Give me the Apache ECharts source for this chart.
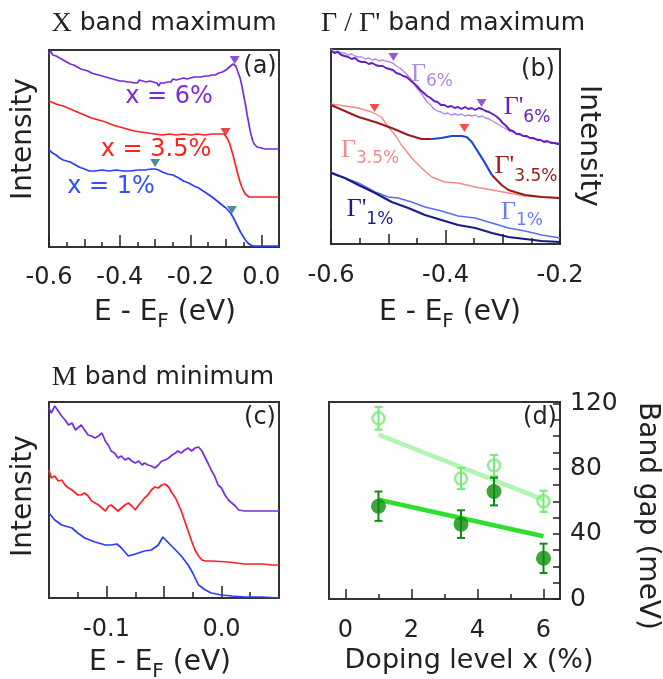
<!DOCTYPE html>
<html>
<head>
<meta charset="utf-8">
<script src="https://cdn.jsdelivr.net/npm/echarts@6/dist/echarts.min.js"></script>
<style>
  html, body { margin: 0; padding: 0; background: #fff; }
  #main { width: 663px; height: 679px; }
</style>
</head>
<body>
<div id="main"></div>
<script>
// ---- data (E in eV, intensity in arbitrary units) ----
// (a) X band maximum
var aX6 = [[-0.600,193],[-0.595,196],[-0.590,192],[-0.585,194],[-0.580,191],[-0.575,193],[-0.570,189],[-0.565,190],[-0.560,187],[-0.555,188],[-0.550,185],[-0.545,186],[-0.540,183],[-0.535,185],[-0.530,182],[-0.525,183],[-0.520,180],[-0.515,181],[-0.510,178],[-0.505,180],[-0.500,177],[-0.495,178],[-0.490,176],[-0.485,177],[-0.480,174],[-0.475,175],[-0.470,173],[-0.465,174],[-0.460,172],[-0.455,173],[-0.450,171],[-0.445,172],[-0.440,170],[-0.435,171],[-0.430,169],[-0.425,170],[-0.420,168],[-0.415,169],[-0.410,167],[-0.405,168],[-0.400,166],[-0.395,168],[-0.390,166],[-0.385,167],[-0.380,165],[-0.375,167],[-0.370,165],[-0.365,166],[-0.360,164],[-0.355,166],[-0.350,164],[-0.345,167],[-0.340,165],[-0.335,166],[-0.330,164],[-0.325,165],[-0.320,163],[-0.315,166],[-0.310,164],[-0.305,165],[-0.300,163],[-0.295,164],[-0.290,161],[-0.285,164],[-0.280,166],[-0.275,164],[-0.270,166],[-0.265,165],[-0.260,167],[-0.255,165],[-0.250,168],[-0.245,166],[-0.240,167],[-0.235,166],[-0.230,168],[-0.225,167],[-0.220,169],[-0.215,167],[-0.210,168],[-0.205,167],[-0.200,169],[-0.195,168],[-0.190,170],[-0.185,168],[-0.180,170],[-0.175,169],[-0.170,170],[-0.165,169],[-0.160,171],[-0.155,170],[-0.150,171],[-0.145,170],[-0.140,172],[-0.135,171],[-0.130,172],[-0.125,172],[-0.120,174],[-0.115,173],[-0.110,175],[-0.105,175],[-0.100,177],[-0.095,178],[-0.090,180],[-0.085,181],[-0.080,183],[-0.076,184],[-0.072,181],[-0.068,177],[-0.064,173],[-0.060,169],[-0.056,163],[-0.052,156],[-0.048,148],[-0.044,141],[-0.040,132],[-0.036,125],[-0.032,117],[-0.028,111],[-0.024,106],[-0.020,103],[-0.016,101],[-0.012,100],[-0.008,99],[0.000,99],[0.010,98],[0.020,98],[0.030,98],[0.040,98],[0.050,98]];
var aX35 = [[-0.600,146],[-0.580,143],[-0.560,141],[-0.540,138],[-0.520,135],[-0.500,132],[-0.480,129],[-0.460,127],[-0.440,125],[-0.420,122],[-0.400,120],[-0.380,118],[-0.360,116],[-0.340,115],[-0.320,114],[-0.300,113],[-0.280,112],[-0.260,113],[-0.240,112],[-0.220,113],[-0.200,112],[-0.180,113],[-0.160,112],[-0.140,113],[-0.120,113],[-0.105,113],[-0.100,111],[-0.095,108],[-0.090,104],[-0.085,98],[-0.080,92],[-0.075,85],[-0.070,78],[-0.065,71],[-0.060,65],[-0.055,60],[-0.050,56],[-0.045,53],[-0.040,51],[-0.035,50],[0.000,50],[0.050,50]];
var aX1 = [[-0.600,97],[-0.590,94],[-0.580,92],[-0.570,89],[-0.560,87],[-0.550,86],[-0.540,85],[-0.530,83],[-0.515,80],[-0.500,78],[-0.486,76],[-0.470,76],[-0.450,77],[-0.430,76],[-0.410,77],[-0.390,76],[-0.370,76],[-0.350,77],[-0.330,77],[-0.310,78],[-0.300,78],[-0.290,77],[-0.280,75],[-0.265,73],[-0.250,72],[-0.233,69],[-0.220,66],[-0.205,64],[-0.190,61],[-0.177,59],[-0.160,55],[-0.139,50],[-0.125,46],[-0.111,42],[-0.100,39],[-0.087,34],[-0.080,30],[-0.073,25],[-0.066,20],[-0.059,15],[-0.052,11],[-0.045,7],[-0.038,4],[-0.030,2],[-0.022,1],[0.000,1],[0.050,1]];
var aMark6 = [[-0.075,187]];
var aMark35 = [[-0.101,115]];
var aMark1 = [[-0.300,84],[-0.083,37]];

// (b) Gamma / Gamma' band maximum
var bG6p = [[-0.600,193],[-0.594,191],[-0.588,192],[-0.582,189],[-0.576,188],[-0.570,187],[-0.564,185],[-0.558,186],[-0.552,183],[-0.546,182],[-0.540,182],[-0.534,180],[-0.528,181],[-0.522,179],[-0.516,178],[-0.510,178],[-0.504,176],[-0.498,175],[-0.492,174],[-0.486,171],[-0.480,170],[-0.474,168],[-0.468,167],[-0.462,164],[-0.456,161],[-0.450,158],[-0.444,154],[-0.438,151],[-0.432,148],[-0.426,146],[-0.420,143],[-0.414,142],[-0.408,139],[-0.402,139],[-0.396,137],[-0.390,138],[-0.384,136],[-0.378,137],[-0.372,135],[-0.366,137],[-0.360,135],[-0.354,136],[-0.348,134],[-0.342,136],[-0.336,135],[-0.330,133],[-0.324,132],[-0.318,130],[-0.312,128],[-0.306,125],[-0.300,121],[-0.294,118],[-0.288,114],[-0.282,113],[-0.276,110],[-0.270,110],[-0.264,108],[-0.258,108],[-0.252,106],[-0.246,106],[-0.240,104],[-0.234,104],[-0.228,102],[-0.222,103],[-0.216,101],[-0.210,101],[-0.204,100],[-0.200,100]];
var bG6 = [[-0.600,195],[-0.594,192],[-0.588,193],[-0.582,191],[-0.576,191],[-0.570,189],[-0.564,190],[-0.558,188],[-0.552,187],[-0.546,187],[-0.540,185],[-0.534,186],[-0.528,184],[-0.522,185],[-0.516,183],[-0.510,184],[-0.504,183],[-0.498,182],[-0.492,181],[-0.486,178],[-0.480,176],[-0.474,173],[-0.468,170],[-0.462,166],[-0.456,161],[-0.450,156],[-0.444,152],[-0.438,147],[-0.432,142],[-0.426,139],[-0.420,135],[-0.414,133],[-0.408,132],[-0.402,130],[-0.396,131],[-0.390,129],[-0.384,130],[-0.378,129],[-0.372,130],[-0.366,128],[-0.360,129],[-0.354,128],[-0.348,129],[-0.342,127],[-0.336,128],[-0.330,126],[-0.324,125],[-0.318,123],[-0.312,121],[-0.306,119],[-0.300,117],[-0.294,115],[-0.288,113],[-0.282,112],[-0.276,110],[-0.270,109],[-0.264,108],[-0.258,107],[-0.252,106],[-0.246,105],[-0.240,105],[-0.234,104],[-0.228,103],[-0.222,102],[-0.216,102],[-0.210,101],[-0.204,101],[-0.200,100]];
var bG35 = [[-0.600,140],[-0.576,138],[-0.552,136],[-0.529,132],[-0.512,127],[-0.500,117],[-0.488,109],[-0.477,99],[-0.459,86],[-0.442,76],[-0.424,67],[-0.401,62],[-0.378,61],[-0.348,57],[-0.319,54],[-0.290,51],[-0.261,48],[-0.232,47],[-0.200,46]];
var bG35pA = [[-0.600,139],[-0.576,133],[-0.552,127],[-0.523,122],[-0.494,116],[-0.465,109],[-0.442,105],[-0.424,105]];
var bG35pFit = [[-0.424,105],[-0.407,106],[-0.389,108],[-0.372,108],[-0.363,107],[-0.354,102],[-0.343,92],[-0.331,81],[-0.319,69]];
var bG35pB = [[-0.319,69],[-0.314,66],[-0.302,59],[-0.290,54],[-0.279,52],[-0.261,49],[-0.232,47],[-0.200,46]];
var bG1p = [[-0.600,71],[-0.576,66],[-0.552,59],[-0.523,51],[-0.494,42],[-0.465,36],[-0.436,29],[-0.407,24],[-0.378,19],[-0.348,16],[-0.319,11],[-0.290,7],[-0.261,5],[-0.232,3],[-0.200,2]];
var bG1 = [[-0.600,72],[-0.576,66],[-0.552,61],[-0.523,52],[-0.500,47],[-0.483,46],[-0.459,42],[-0.436,37],[-0.407,33],[-0.378,28],[-0.348,26],[-0.319,21],[-0.290,16],[-0.261,13],[-0.232,9],[-0.200,6]];
var bMark6 = [[-0.491,187],[-0.337,141]];
var bMark35 = [[-0.524,136],[-0.367,116]];

// (c) M band minimum
var cM6 = [[-0.150,190],[-0.148,185],[-0.145,192],[-0.142,187],[-0.139,182],[-0.136,178],[-0.133,173],[-0.130,175],[-0.127,168],[-0.125,170],[-0.122,173],[-0.119,168],[-0.116,163],[-0.113,162],[-0.110,160],[-0.107,162],[-0.104,165],[-0.101,157],[-0.098,152],[-0.096,147],[-0.093,145],[-0.090,140],[-0.087,142],[-0.084,138],[-0.081,140],[-0.078,137],[-0.075,135],[-0.072,137],[-0.069,133],[-0.067,135],[-0.064,133],[-0.061,132],[-0.058,130],[-0.055,133],[-0.052,137],[-0.049,138],[-0.046,140],[-0.043,143],[-0.040,145],[-0.038,147],[-0.035,145],[-0.032,148],[-0.029,150],[-0.026,147],[-0.023,150],[-0.020,151],[-0.017,147],[-0.014,140],[-0.011,133],[-0.009,128],[-0.006,122],[-0.003,113],[0.000,110],[0.003,103],[0.006,98],[0.009,95],[0.012,92],[0.015,88],[0.020,87],[0.026,87],[0.032,87],[0.050,87]];
var cM35 = [[-0.150,128],[-0.148,120],[-0.145,122],[-0.142,117],[-0.139,118],[-0.136,113],[-0.133,110],[-0.130,108],[-0.127,105],[-0.125,103],[-0.122,103],[-0.119,105],[-0.116,102],[-0.113,97],[-0.110,95],[-0.107,93],[-0.104,90],[-0.101,87],[-0.098,92],[-0.096,93],[-0.093,90],[-0.090,87],[-0.087,90],[-0.084,93],[-0.081,95],[-0.078,92],[-0.075,88],[-0.072,93],[-0.069,97],[-0.067,100],[-0.064,103],[-0.061,108],[-0.058,111],[-0.055,110],[-0.052,113],[-0.049,114],[-0.046,111],[-0.043,105],[-0.040,100],[-0.038,95],[-0.035,87],[-0.032,77],[-0.029,67],[-0.026,57],[-0.023,48],[-0.020,42],[-0.017,38],[-0.014,37],[-0.009,37],[0.006,36],[0.020,34],[0.035,34],[0.044,33],[0.050,33]];
var cM1 = [[-0.150,85],[-0.145,78],[-0.139,73],[-0.130,70],[-0.125,65],[-0.119,60],[-0.110,56],[-0.101,53],[-0.096,53],[-0.091,54],[-0.087,50],[-0.081,42],[-0.075,44],[-0.067,47],[-0.061,48],[-0.055,53],[-0.051,61],[-0.046,55],[-0.040,48],[-0.035,42],[-0.029,33],[-0.025,25],[-0.020,13],[-0.014,8],[-0.009,5],[0.000,3],[0.009,2],[0.020,1],[0.035,1],[0.050,0]];

// (d) band gap vs doping
var dopingX = [1, 3.5, 4.5, 6];
var gapOpen = [111, 74, 82, 60];
var gapOpenErr = [7, 6.5, 6.5, 6.5];
var gapFilled = [57, 46, 66, 25];
var gapFilledErr = [9, 8.5, 8.5, 9];
var fitOpen = [[1, 101], [6, 61]];
var fitFilled = [[1, 61], [6, 38.5]];

// tick positions
var aMajor = [-0.6, -0.4, -0.2, 0.0];
var aMid = [-0.5, -0.3, -0.1];
var aMinor = [-0.55, -0.45, -0.35, -0.25, -0.15, -0.05];
var bMajor = [-0.6, -0.4, -0.2];
var bMid = [-0.5, -0.3];
var bMinor = [-0.55, -0.45, -0.35, -0.25];
var cMajor = [-0.1, -0.05, 0.0];
var cLabels = [-0.1, 0.0];
var cMinor = [-0.125, -0.075, -0.025, 0.025];
var dXMajor = [0, 2, 4, 6];
var dXMinor = [1, 3, 5];
var dYTicks = [0, 10, 20, 30, 40, 50, 60, 70, 80, 90, 100, 110, 120];
var dYLabels = [0, 40, 80, 120];

// ---- chart ----
var SANS = "'DejaVu Sans', sans-serif";
var SERIF = "'Liberation Serif', serif";
var INK = '#222';

var fmt1 = function (v) { var r = Math.round(v * 10) / 10; if (Math.abs(r) < 1e-9) r = 0; return r.toFixed(1); };

function xTicks(grid, min, max, values, len, labels, margin) {
    return {
        type: 'value', gridIndex: grid, min: min, max: max, position: 'bottom',
        axisLine: { show: false, onZero: false }, splitLine: { show: false },
        axisTick: { show: true, inside: true, length: len, customValues: values, lineStyle: { color: INK, width: 1.5 } },
        axisLabel: labels ? { show: true, customValues: labels, formatter: fmt1, fontSize: 24, fontFamily: SANS, color: INK, margin: margin } : { show: false }
    };
}

var xAxes = [
    xTicks(0, -0.6, 0.05, aMajor, 12, aMajor, 19),
    xTicks(0, -0.6, 0.05, aMid, 8),
    xTicks(0, -0.6, 0.05, aMinor, 5),
    xTicks(1, -0.6, -0.2, bMajor, 14, bMajor, 20),
    xTicks(1, -0.6, -0.2, bMid, 10),
    xTicks(1, -0.6, -0.2, bMinor, 6),
    xTicks(2, -0.15, 0.05, cMajor, 12, cLabels, 20),
    xTicks(2, -0.15, 0.05, cMinor, 6),
    xTicks(3, -0.5, 6.5, dXMajor, 10, dXMajor, 20),
    xTicks(3, -0.5, 6.5, dXMinor, 5)
];
xAxes[8].axisLabel.formatter = function (v) { return String(Math.round(v)); };

var yAxes = [
    { type: 'value', gridIndex: 0, min: 0, max: 197, show: false },
    { type: 'value', gridIndex: 1, min: 0, max: 195, show: false },
    { type: 'value', gridIndex: 2, min: 0, max: 196, show: false },
    {
        type: 'value', gridIndex: 3, min: 0, max: 121, position: 'right',
        axisLine: { show: false, onZero: false }, splitLine: { show: false },
        axisTick: { show: true, inside: true, length: 7, customValues: dYTicks, lineStyle: { color: INK, width: 1.5 } },
        axisLabel: { show: true, customValues: dYLabels, fontSize: 25, fontFamily: SANS, color: INK, margin: 10 }
    }
];

function line(xi, yi, data, color, width) {
    return { type: 'line', xAxisIndex: xi, yAxisIndex: yi, data: data, symbol: 'none', showSymbol: false,
        lineStyle: { color: color, width: width }, silent: true, z: 3 };
}
function tri(xi, yi, data, color) {
    return { type: 'scatter', xAxisIndex: xi, yAxisIndex: yi, data: data, symbol: 'triangle', symbolRotate: 180,
        symbolSize: [10, 8], itemStyle: { color: color }, silent: true, z: 5 };
}
function errBars(vals, errs, color) {
    return {
        type: 'custom', xAxisIndex: 8, yAxisIndex: 3, silent: true, z: 4,
        data: dopingX.map(function (x, i) { return [x, vals[i] - errs[i], vals[i] + errs[i]]; }),
        renderItem: function (params, api) {
            var lo = api.coord([api.value(0), api.value(1)]);
            var hi = api.coord([api.value(0), api.value(2)]);
            var w = 4, st = { stroke: color, lineWidth: 2 };
            return { type: 'group', children: [
                { type: 'line', shape: { x1: lo[0], y1: lo[1], x2: hi[0], y2: hi[1] }, style: st },
                { type: 'line', shape: { x1: lo[0] - w, y1: lo[1], x2: lo[0] + w, y2: lo[1] }, style: st },
                { type: 'line', shape: { x1: hi[0] - w, y1: hi[1], x2: hi[0] + w, y2: hi[1] }, style: st }
            ] };
        }
    };
}

var PURPLE = '#7b2bde', RED = '#ff2222', BLUE = '#2b3cff';
var LGREEN = '#74ec74', DGREEN = '#0e8e0e';

var series = [
    line(0, 0, aX6, PURPLE, 1.7),
    line(0, 0, aX35, RED, 1.7),
    line(0, 0, aX1, BLUE, 1.7),
    tri(0, 0, aMark6, '#7722cc'),
    tri(0, 0, aMark35, '#ee1111'),
    tri(0, 0, aMark1, '#1d6e8c'),

    line(3, 1, bG6, '#b48ae4', 1.4),
    line(3, 1, bG6p, '#6a1fc4', 2),
    line(3, 1, bG35, '#f48a8a', 1.4),
    line(3, 1, bG35pA, '#9a1a1a', 2),
    line(3, 1, bG35pB, '#9a1a1a', 2),
    line(3, 1, bG35pFit, '#1a44e0', 2.2),
    line(3, 1, bG1, '#5a6cff', 1.6),
    line(3, 1, bG1p, '#1b1b85', 2),
    tri(3, 1, bMark6, '#7a30d0'),
    tri(3, 1, bMark35, '#ff1a1a'),

    line(6, 2, cM6, PURPLE, 1.7),
    line(6, 2, cM35, RED, 1.7),
    line(6, 2, cM1, BLUE, 1.7),

    line(8, 3, fitOpen, '#b2f5b2', 4.5),
    line(8, 3, fitFilled, '#2fdf2f', 4.5),
    errBars(gapOpen, gapOpenErr, LGREEN),
    errBars(gapFilled, gapFilledErr, DGREEN),
    { type: 'scatter', xAxisIndex: 8, yAxisIndex: 3, symbol: 'circle', symbolSize: 12, silent: true, z: 5,
      data: dopingX.map(function (x, i) { return [x, gapOpen[i]]; }),
      itemStyle: { color: 'rgba(255,255,255,0)', borderColor: LGREEN, borderWidth: 2.5 } },
    { type: 'scatter', xAxisIndex: 8, yAxisIndex: 3, symbol: 'circle', symbolSize: 15, silent: true, z: 5,
      data: dopingX.map(function (x, i) { return [x, gapFilled[i]]; }),
      itemStyle: { color: DGREEN } }
];

// ---- text ----
function txt(x, y, text, color, size, extra) {
    var el = { type: 'text', x: x, y: y, z: 10, silent: true,
        style: { text: text, fill: color, font: size + 'px ' + SANS, align: 'center', verticalAlign: 'middle' } };
    if (extra && extra.rotation) el.rotation = extra.rotation;
    if (extra && extra.rich) el.style.rich = extra.rich;
    return el;
}
function richSub(color, big, small, lift) {
    return {
        g: { fontFamily: SERIF, fontSize: big + 2, fill: color, verticalAlign: 'bottom', padding: [0, 0, lift, 0] },
        n: { fontFamily: SANS, fontSize: big, fill: color, verticalAlign: 'bottom', padding: [0, 0, lift, 0] },
        s: { fontFamily: SANS, fontSize: small, fill: color, verticalAlign: 'bottom' }
    };
}
function titleRich() {
    return {
        g: { fontFamily: SERIF, fontSize: 28, fill: INK, verticalAlign: 'bottom' },
        n: { fontFamily: SANS, fontSize: 25, fill: INK, verticalAlign: 'bottom', padding: [0, 0, 2, 0] }
    };
}
var eName = '{n|E - E}{s|F}{n| (eV)}';

var graphics = [
    txt(164, 24, '{g|X}{n| band maximum}', INK, 25, { rich: titleRich() }),
    txt(453, 24, "{g|Γ / Γ'}{n| band maximum}", INK, 25, { rich: titleRich() }),
    txt(163, 378, '{g|M}{n| band minimum}', INK, 25, { rich: titleRich() }),

    txt(24, 139, 'Intensity', INK, 28, { rotation: Math.PI / 2 }),
    txt(24, 496, 'Intensity', INK, 28, { rotation: Math.PI / 2 }),
    txt(588, 146, 'Intensity', INK, 28, { rotation: -Math.PI / 2 }),
    txt(647, 516, 'Band gap (meV)', INK, 28, { rotation: -Math.PI / 2 }),

    txt(165, 315, eName, INK, 28, { rich: richSub(INK, 28, 20, 5) }),
    txt(450, 315, eName, INK, 28, { rich: richSub(INK, 28, 20, 5) }),
    txt(160, 665, eName, INK, 28, { rich: richSub(INK, 28, 20, 5) }),
    txt(469, 661, 'Doping level x (%)', INK, 27),

    txt(260, 67, '(a)', INK, 24),
    txt(538, 70, '(b)', INK, 24),
    txt(260, 418, '(c)', INK, 24),
    txt(540, 418, '(d)', INK, 24),

    txt(169, 97, 'x = 6%', PURPLE, 24),
    txt(156, 150, 'x = 3.5%', RED, 24),
    txt(111, 187, 'x = 1%', '#3350ff', 24),

    txt(432, 76, '{g|Γ}{s|6%}', '#b48ae4', 24, { rich: richSub('#b48ae4', 24, 17, 3) }),
    txt(527, 110, "{g|Γ'}{s|6%}", '#6a1fc4', 24, { rich: richSub('#6a1fc4', 24, 17, 6) }),
    txt(370, 152, '{g|Γ}{s|3.5%}', '#f48a8a', 24, { rich: richSub('#f48a8a', 24, 17, 4) }),
    txt(526, 169, "{g|Γ'}{s|3.5%}", '#9a1a1a', 24, { rich: richSub('#9a1a1a', 24, 17, 6) }),
    txt(370, 212, "{g|Γ'}{s|1%}", '#1b1b85', 24, { rich: richSub('#1b1b85', 24, 17, 6) }),
    txt(522, 214, '{g|Γ}{s|1%}', '#6a7bff', 24, { rich: richSub('#6a7bff', 24, 17, 4) })
];

var chart = echarts.init(document.getElementById('main'), null, { renderer: 'canvas' });
chart.setOption({
    animation: false,
    backgroundColor: '#fff',
    grid: [
        { left: 49, top: 50, width: 230, height: 197, show: true, borderColor: '#333', borderWidth: 2, backgroundColor: 'transparent' },
        { left: 331, top: 49, width: 229, height: 195, show: true, borderColor: '#333', borderWidth: 2, backgroundColor: 'transparent' },
        { left: 49, top: 402, width: 230, height: 196, show: true, borderColor: '#333', borderWidth: 2, backgroundColor: 'transparent' },
        { left: 329, top: 402, width: 231, height: 197, show: true, borderColor: '#333', borderWidth: 2, backgroundColor: 'transparent' }
    ],
    xAxis: xAxes,
    yAxis: yAxes,
    series: series,
    graphic: graphics
});
</script>
</body>
</html>
